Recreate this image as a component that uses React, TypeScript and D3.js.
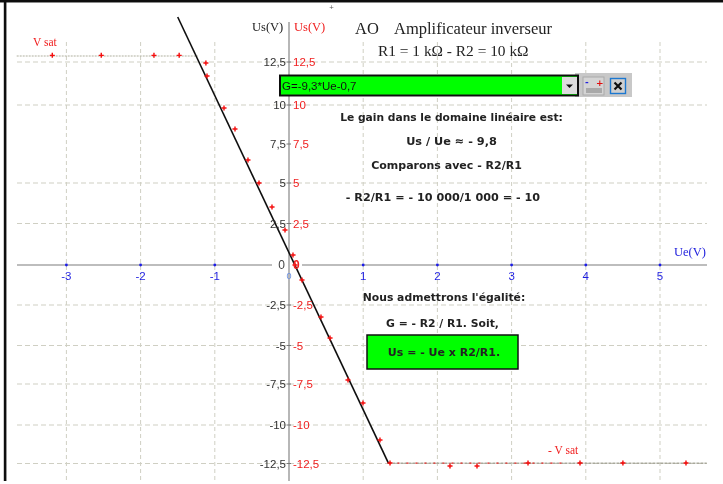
import React from "react";
import * as d3 from "d3";

const W = 723, H = 484;
const xTicks = [-3, -2, -1, 1, 2, 3, 4, 5];
const yTicks = [12.5, 10, 7.5, 5, 2.5, -2.5, -5, -7.5, -10, -12.5];
const yGridTicks = [12.5, 10, 5, 2.5, -2.5, -5, -7.5, -10, -12.5];
const yLabels = ["12,5", "10", "7,5", "5", "2,5", "-2,5", "-5", "-7,5", "-10", "-12,5"];
const yAnchorValues = [15.2, 12.5, 10, 7.5, 5, 2.5, 0, -2.5, -5, -7.5, -10, -12.5, -15];
const fitUe = [-1.5, 1.34];
const fitUs = [15.2, -12.48];
const satUe = [-3.67, -1.23];
const satUs = [12.86, 12.86];
const lowSatUe = [1.34, 5.63];
const lowSatUs = [-12.48, -12.48];
const lowSatRedUe = [1.34, 3.7];
const pointsUe = [-3.19, -2.53, -1.82, -1.48, -1.12, -1.105, -0.876, -0.728, -0.553, -0.404, -0.229, -0.054, 0.054, 0.081, 0.175, 0.431, 0.553, 0.795, 0.997, 1.226, 1.361, 2.17, 2.534, 3.221, 3.922, 4.5, 5.35];
const pointsUs = [12.9, 12.9, 12.9, 12.9, 12.44, 11.69, 9.81, 8.46, 6.47, 5, 3.52, 2.11, 0.6, 0, -0.94, -3.24, -4.54, -7.24, -8.66, -10.97, -12.47, -12.66, -12.66, -12.47, -12.47, -12.47, -12.47];
const grid = "#cfcfc3";

const x = d3.scaleLinear().domain([0, 5]).range([289, 660]);
const y = d3.scaleLinear().domain(yAnchorValues).range([17, 62, 105, 144, 183, 223.5, 265, 305, 345.5, 384, 425, 463.5, 503]);
const seg = (xs: number[], ys: number[]) =>
  d3.line<number>().x((d) => x(d)).y((_, i) => y(ys[i]))(xs) as string;

export default function App() {
  const sans = "'DejaVu Sans', sans-serif";
  const arial = "'Liberation Sans', sans-serif";
  const serif = "'Liberation Serif', serif";
  return (
    <svg width={W} height={H} viewBox={`0 0 ${W} ${H}`} style={{ position: "absolute", left: 0, top: 0, background: "#fff" }}>
      <defs>
        <filter id="soft" x="0" y="0" width="100%" height="100%">
          <feGaussianBlur stdDeviation="0.5" />
        </filter>
      </defs>
      <g filter="url(#soft)">
        <rect x={0} y={0} width={W} height={2.5} fill="#111" />
        <rect x={3.8} y={0} width={2.6} height={481} fill="#111" />

        {xTicks.map((t) => (
          <line key={t} x1={x(t)} x2={x(t)} y1={42} y2={481} stroke={grid} strokeWidth={1} strokeDasharray="4 3" />
        ))}
        {yGridTicks.map((t) => (
          <line key={t} x1={17} x2={707} y1={y(t)} y2={y(t)} stroke={grid} strokeWidth={1} strokeDasharray="5 3" />
        ))}

        <line x1={17} x2={272} y1={y(0)} y2={y(0)} stroke="#bdbdbd" strokeWidth={2} />
        <line x1={302} x2={707} y1={y(0)} y2={y(0)} stroke="#bdbdbd" strokeWidth={2} />
        <line x1={x(0)} x2={x(0)} y1={22} y2={481} stroke="#999" strokeWidth={1.4} />

        <path d={seg(satUe, satUs)} stroke="#b0b09f" strokeDasharray="2 1" fill="none" strokeWidth={1.2} />
        <path d={seg(lowSatUe, lowSatUs)} stroke="#a9a99c" strokeDasharray="3 1" fill="none" strokeWidth={1.6} />
        <path d={seg(lowSatRedUe, lowSatUs)} stroke="#ee3030" strokeDasharray="2 7" fill="none" strokeWidth={1.2} />
        <path d={seg(fitUe, fitUs)} stroke="#111" fill="none" strokeWidth={1.6} />

        {pointsUe.map((d, i) => (
          <path key={i} d={`M${x(d) - 2.5},${y(pointsUs[i])}h5M${x(d)},${y(pointsUs[i]) - 2.5}v5`} stroke="#f50a0a" strokeWidth={1.4} fill="none" />
        ))}

        {xTicks.map((t) => (
          <g key={t}>
            <circle cx={x(t)} cy={y(0)} r={1.4} fill="#1a1ae6" />
            <text x={x(t)} y={280} textAnchor="middle" fontFamily={arial} fontSize={11.5} fill="#1f1fe0">{t}</text>
          </g>
        ))}
        <text x={289} y={279} textAnchor="middle" fontFamily={arial} fontSize={9} fill="#6a8fe0">0</text>

        {yTicks.map((t, i) => (
          <g key={t}>
            <line x1={286.5} x2={291} y1={y(t)} y2={y(t)} stroke="#777" />
            <text x={286} y={y(t) + 4} textAnchor="end" fontFamily={arial} fontSize={11.5} fill="#333">{yLabels[i]}</text>
            <text x={293} y={y(t) + 4} fontFamily={arial} fontSize={11.5} fill="#f02020">{yLabels[i]}</text>
          </g>
        ))}
        <text x={285} y={269} textAnchor="end" fontFamily={arial} fontSize={12} fill="#444">0</text>
        <text x={293} y={269} fontFamily={arial} fontSize={12} fontWeight="bold" fill="#f02020">0</text>

        <text x={252} y={31} fontFamily={serif} fontSize={12.5} fill="#222">Us(V)</text>
        <text x={294} y={31} fontFamily={serif} fontSize={12.5} fill="#f02020">Us(V)</text>
        <text x={33} y={46} fontFamily={serif} fontSize={11.5} fill="#f02020">V sat</text>
        <text x={548} y={454} fontFamily={serif} fontSize={11.5} fill="#f02020">- V sat</text>
        <text x={674} y={256} fontFamily={serif} fontSize={12.5} fill="#2222dd">Ue(V)</text>
        <text x={329} y={9} fontFamily={sans} fontSize={6} fill="#555">+</text>

        <text x={355} y={34} fontFamily={serif} fontSize={16.5} fill="#222">AO</text>
        <text x={394} y={34} fontFamily={serif} fontSize={16.5} fill="#222">Amplificateur inverseur</text>
        <text x={378} y={56} fontFamily={serif} fontSize={15.4} fill="#222">R1 = 1 kΩ  - R2 = 10 kΩ</text>

        <rect x={575} y={73} width={57} height={24} fill="#c8c8c8" />
        <rect x={280} y={75.5} width={298} height={20} fill="#00ff00" stroke="#111" strokeWidth={2} />
        <rect x={562} y={77} width={15} height={17} fill="#dcdcdc" />
        <path d="M566,84.5h7l-3.5,3.5z" fill="#111" />
        <text x={282} y={90} fontFamily={arial} fontSize={11.5} fill="#111">G=-9,3*Ue-0,7</text>
        <rect x={583} y={77} width={21} height={18} fill="#d4d4d4" stroke="#aaa" />
        <text x={585} y={85} fontFamily={sans} fontSize={9} fontWeight="bold" fill="#2222dd">-</text>
        <text x={596} y={86} fontFamily={sans} fontSize={9} fontWeight="bold" fill="#e01010">+</text>
        <rect x={586} y={88} width={16} height={5} fill="#a9a9a9" />
        <rect x={610.5} y={78.5} width={15} height={15} fill="#cfcfcf" stroke="#1e78d0" strokeWidth={1.4} />
        <path d="M614.5,82.5l7,7M621.5,82.5l-7,7" stroke="#111" strokeWidth={2.2} />

        <g fontFamily={sans} fontWeight="bold" fill="#222" textAnchor="middle">
          <text x={451.5} y={121} fontSize={10.7}>Le gain dans le domaine linéaire est:</text>
          <text x={451.5} y={145} fontSize={11.3}>Us / Ue ≈ - 9,8</text>
          <text x={446.5} y={169} fontSize={11}>Comparons avec - R2/R1</text>
          <text x={443} y={201} fontSize={11.2}>- R2/R1 = - 10 000/1 000 = - 10</text>
          <text x={444} y={301} fontSize={10.8}>Nous admettrons l'égalité:</text>
          <text x={442.5} y={327} fontSize={10.8}>G = - R2 / R1. Soit,</text>
        </g>
        <rect x={367} y={335} width={151} height={34} fill="#00ff00" stroke="#111" strokeWidth={1.5} />
        <text x={444} y={356} textAnchor="middle" fontFamily={sans} fontWeight="bold" fontSize={11} fill="#222">Us = - Ue x R2/R1.</text>
      </g>
    </svg>
  );
}
